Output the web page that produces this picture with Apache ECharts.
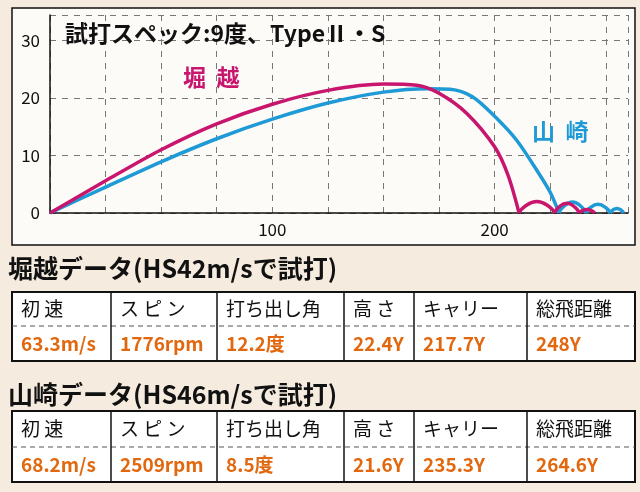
<!DOCTYPE html>
<html><head><meta charset="utf-8">
<script src="https://cdn.jsdelivr.net/npm/echarts@6/dist/echarts.min.js"></script>
<style>html,body{margin:0;padding:0;background:#f5ebde}#c{width:640px;height:492px}</style>
</head><body><div id="c"></div>
<script>
// main flights
const horiX = [0,25,50,75,100,125,150,165,175,187.5,200,206,211];
const horiY = [0,5.6,11.0,15.5,18.9,21.3,22.4,22.2,20.8,17.3,11.5,6.6,0];
const yamaX = [0,25,50,75,100,125,150,170,180,190,200,210,220,225,229];
const yamaY = [0,4.5,8.9,12.9,16.3,19.1,21.0,21.6,21.5,20.2,16.8,12.6,6.8,3.6,0];
// bounces: [start, end, peak height]
const horiBounces = [[211,227,2.0],[227,238,1.7],[238,245,0.6]];
const yamaBounces = [[229,241,1.9],[241,252,1.5],[252,258,0.8]];
const headers = ['初 速','ス ピ ン','打ち出し角','高 さ','キャリー','総飛距離'];
const horiVals = ['63.3m/s','1776rpm','12.2度','22.4Y','217.7Y','248Y'];
const yamaVals = ['68.2m/s','2509rpm','8.5度','21.6Y','235.3Y','264.6Y'];
const titles = ['堀越データ(HS42m/sで試打)','山崎データ(HS46m/sで試打)'];
const yTicks = [0,10,20,30];

const MAG='#c8166e', BLU='#1e9ad6', ORG='#e2680f';
const FONT='"Noto Sans CJK JP", sans-serif';
const colX=[12,111,217,344,414,527,635];
function table(title, vals, ty, top, mid, bot){
  const g=[];
  g.push({type:'text',left:8,top:ty-15,style:{text:title,font:'bold 25px '+FONT,fill:'#111'}});
  g.push({type:'rect',shape:{x:12,y:top,width:623,height:bot-top},style:{fill:'#fff',stroke:'#111',lineWidth:2}});
  g.push({type:'line',shape:{x1:12,y1:mid,x2:635,y2:mid},style:{stroke:'#555',lineWidth:1.2,lineDash:[5,4]}});
  for(let i=1;i<6;i++) g.push({type:'line',shape:{x1:colX[i],y1:top,x2:colX[i],y2:bot},style:{stroke:'#111',lineWidth:1.5}});
  for(let i=0;i<6;i++){
    g.push({type:'text',x:colX[i]+9,y:(top+mid)/2,style:{text:headers[i],font:'19px '+FONT,fill:'#111',verticalAlign:'middle'}});
    g.push({type:'text',x:colX[i]+9,y:(mid+bot)/2,style:{text:vals[i],font:'bold 19px "Liberation Sans Narrow","Noto Sans CJK JP",sans-serif',fill:ORG,verticalAlign:'middle'}});
  }
  return g;
}
const graphics=[
  {type:'rect',z:-10,shape:{x:12,y:8,width:623,height:237},style:{fill:'#fdfbf7',stroke:'#111',lineWidth:1.5}},
  {type:'text',z:10,left:65,top:22,style:{text:'試打スペック:9度、TypeⅡ・S',font:'bold 23px '+FONT,fill:'#111'}},
  {type:'text',z:10,left:183,top:66,style:{text:'堀  越',font:'bold 23px '+FONT,fill:MAG}},
  {type:'text',z:10,left:532,top:120,style:{text:'山  崎',font:'bold 23px '+FONT,fill:BLU}},
  ...table(titles[0],horiVals,271,292,326,361),
  ...table(titles[1],yamaVals,397,411,447,482)
];
function line(data,color,smooth){
  return {type:'line',smooth:smooth,symbol:'none',data:data,lineStyle:{color:color,width:3.5}};
}
function bounceSeries(b,color){
  return b.map(([s,e,h])=>{const w=e-s;
    return line([[s,0],[s+w*0.15,h*0.55],[s+w*0.5,h],[s+w*0.85,h*0.55],[e,0]],color,0.5);});
}
const chart=echarts.init(document.getElementById('c'));
chart.setOption({
  backgroundColor:'#f5ebde',
  animation:false,
  grid:{left:50,right:12,top:15,bottom:279},
  xAxis:{type:'value',min:0,max:260,interval:25,
    axisLine:{lineStyle:{color:'#111',width:1.5}},axisTick:{show:false},
    axisLabel:{fontSize:17,color:'#111',fontFamily:FONT,margin:8,formatter:v=>(v>0&&v%100===0)?String(v):''},
    splitLine:{lineStyle:{type:[6,6],color:'#777'}}},
  yAxis:{type:'value',min:0,max:34.4,interval:10,
    axisLine:{show:true,lineStyle:{color:'#111',width:1.5}},axisTick:{show:false},
    axisLabel:{fontSize:17,color:'#111',fontFamily:FONT,margin:10,formatter:v=>yTicks.includes(v)?String(v):''},
    splitLine:{lineStyle:{type:[6,6],color:'#777'}}},
  series:[
    line(yamaX.map((x,i)=>[x,yamaY[i]]),BLU,0.3),
    ...bounceSeries(yamaBounces,BLU),
    line(horiX.map((x,i)=>[x,horiY[i]]),MAG,0.3),
    ...bounceSeries(horiBounces,MAG)
  ],
  graphic:graphics
});
</script></body></html>
